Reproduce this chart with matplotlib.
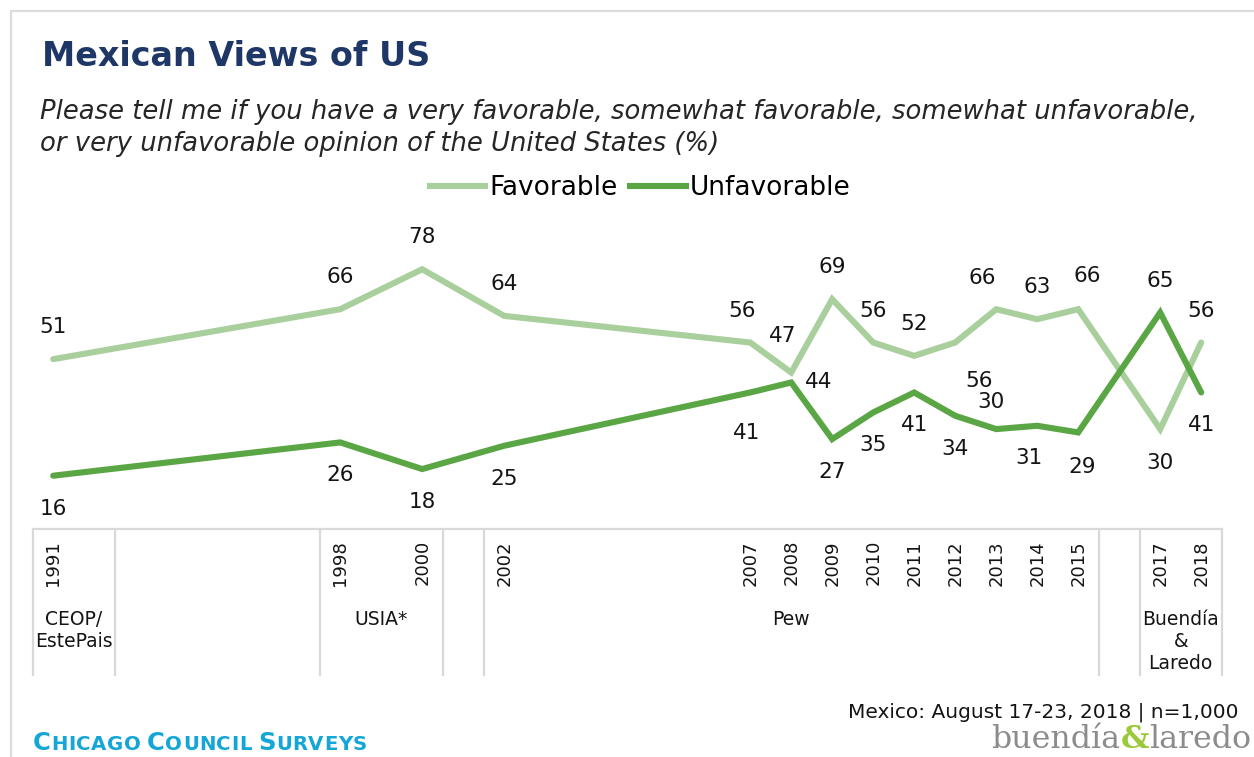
import matplotlib
matplotlib.use("Agg")
import matplotlib.pyplot as plt
from matplotlib.lines import Line2D

# ---------------- data ----------------
categories = ["1991", "", "", "", "", "", "", "1998", "", "2000", "", "2002",
              "", "", "", "", "", "2007", "2008", "2009", "2010", "2011", "2012",
              "2013", "2014", "2015", "", "2017", "2018"]
years = ["1991", "1998", "2000", "2002", "2007", "2008", "2009", "2010",
         "2011", "2012", "2013", "2014", "2015", "2017", "2018"]
favorable = [51, 66, 78, 64, 56, 47, 69, 56, 52, 56, 66, 63, 66, 30, 56]
unfavorable = [16, 26, 18, 25, 41, 44, 27, 35, 41, 34, 30, 31, 29, 65, 41]
sources = ["CEOP/\nEstePais", "USIA*", "Pew", "Buendía\n&\nLaredo"]
source_first = ["1991", "1998", "2002", "2017"]
source_last_index = [1, 9, 25, 28]

title = "Mexican Views of US"
subtitle = ("Please tell me if you have a very favorable, somewhat favorable, somewhat unfavorable,\n"
            "or very unfavorable opinion of the United States (%)")
footnote = "Mexico: August 17-23, 2018 | n=1,000"

# ---------------- style ----------------
W, H = 1254, 757
FAV_C = "#a9cf9d"
UNF_C = "#5aa645"
NAVY = "#1e3766"
GRID = "#d9d9d9"
TXT = "#141414"

def fx(px):
    return px / W

def fy(py):
    return 1 - py / H

fig = plt.figure(figsize=(W / 100, H / 100), dpi=100)
fig.patch.set_facecolor("white")

# outer frame (left and top edges)
fig.add_artist(Line2D([fx(11), fx(11), 1.0], [0.0, fy(11), fy(11)],
                      transform=fig.transFigure, color="#dcdcdc", lw=1.6))

# title & subtitle
fig.text(fx(42), fy(57), title, fontsize=24, fontweight="bold", color=NAVY,
         va="center", ha="left", family="DejaVu Sans")
fig.text(fx(40), fy(128), subtitle, fontsize=18.6, style="italic", color="#262626",
         va="center", ha="left", linespacing=1.3, family="DejaVu Sans")

# ---------------- main axes ----------------
x_left, x_right = 32.7, 1221.7
y_zero, y_top = 529, 196
ax = fig.add_axes([fx(x_left), fy(y_zero), fx(x_right) - fx(x_left), fy(y_top) - fy(y_zero)])
ax.set_xlim(-0.5, len(categories) - 0.5)
ax.set_ylim(0, 100)
ax.axis("off")

xpos = [categories.index(y) for y in years]
ax.plot(xpos, favorable, color=FAV_C, lw=4.4, solid_capstyle="round",
        solid_joinstyle="miter", zorder=2)
ax.plot(xpos, unfavorable, color=UNF_C, lw=4.4, solid_capstyle="round",
        solid_joinstyle="miter", zorder=3)

# label offsets in pixels (dx, dy up-positive)
fav_off = {y: (0, 32) for y in years}
fav_off.update({"2007": (-8, 32), "2008": (-9, 36), "2012": (24, -38),
                "2013": (-14, 31), "2015": (9, 33), "2017": (0, -34)})
unf_off = {y: (0, -33) for y in years}
unf_off.update({"2007": (-4, -41), "2008": (27, 0), "2013": (-5, 27),
                "2014": (-8, -32), "2015": (4, -35), "2017": (0, 32)})

for y, v in zip(years, favorable):
    dx, dy = fav_off[y]
    ax.annotate(str(v), (categories.index(y), v), xytext=(dx, dy),
                textcoords="offset pixels", ha="center", va="center",
                fontsize=15.5, color=TXT, family="DejaVu Sans")
for y, v in zip(years, unfavorable):
    dx, dy = unf_off[y]
    ax.annotate(str(v), (categories.index(y), v), xytext=(dx, dy),
                textcoords="offset pixels", ha="center", va="center",
                fontsize=15.5, color=TXT, family="DejaVu Sans")

# legend
handles = [Line2D([], [], color=FAV_C, lw=4.4), Line2D([], [], color=UNF_C, lw=4.4)]
fig.legend(handles, ["Favorable", "Unfavorable"], loc="center",
           bbox_to_anchor=(fx(640), fy(188)), ncol=2, frameon=False,
           handlelength=2.1, handletextpad=0.15, columnspacing=0.5,
           prop={"family": "DejaVu Sans", "size": 19})

# ---------------- category table ----------------
tab_bottom = 675
tab = fig.add_axes([fx(x_left), fy(tab_bottom), fx(x_right) - fx(x_left),
                    fy(y_zero) - fy(tab_bottom)])
tab.set_xlim(-0.5, len(categories) - 0.5)
tab.set_ylim(tab_bottom - y_zero, 0)
tab.axis("off")

tab.plot([-0.5, len(categories) - 0.5], [0, 0], color=GRID, lw=1.6, clip_on=False)
edges = set()
for first, last_i in zip(source_first, source_last_index):
    edges.add(categories.index(first) - 0.5)
    edges.add(last_i + 0.5)
for e in sorted(edges):
    tab.plot([e, e], [0, tab_bottom - y_zero], color=GRID, lw=1.6, clip_on=False)

for i, c in enumerate(categories):
    if c:
        tab.text(i, 11, c, rotation=90, ha="center", va="top", fontsize=13,
                 color=TXT, family="DejaVu Sans")

for name, first, last_i in zip(sources, source_first, source_last_index):
    cx = (categories.index(first) + last_i) / 2
    tab.text(cx, 81, name, ha="center", va="top", fontsize=13.5, color=TXT,
             linespacing=1.2, family="DejaVu Sans")

# ---------------- footer ----------------
fig.text(fx(1238), fy(712), footnote, ha="right", va="center", fontsize=14.5,
         color=TXT, family="DejaVu Sans")

renderer = fig.canvas.get_renderer()

# Chicago Council Surveys in small caps, tracked
CC = "#14a6d6"
x_px = 33.0
base = fy(750)
for word in ["Chicago", "Council", "Surveys"]:
    for k, ch in enumerate(word.upper()):
        t = fig.text(x_px / W, base, ch, fontsize=17.5 if k == 0 else 14.2, color=CC,
                     va="baseline", ha="left", family="DejaVu Sans", fontweight="bold")
        x_px = t.get_window_extent(renderer).x1 + 0.5
    x_px += 6

# buendía&laredo logo (right aligned)
xr = fx(1251)
base2 = fy(748)
for part, col, wt in [("laredo", "#8c8c8c", "normal"), ("&", "#9cc93a", "bold"),
                      ("buendía", "#8c8c8c", "normal")]:
    t = fig.text(xr, base2, part, fontsize=22.8, color=col, va="baseline",
                 ha="right", family="DejaVu Serif", fontweight=wt)
    xr = t.get_window_extent(renderer).x0 / W

fig.savefig("out.png", dpi=100, facecolor="white")
